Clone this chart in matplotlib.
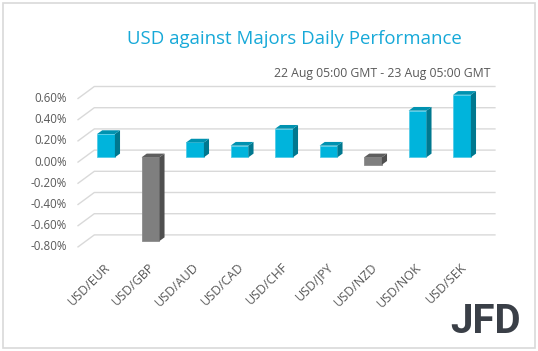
import matplotlib
matplotlib.use('Agg')
import matplotlib.pyplot as plt
from matplotlib.patches import Polygon, Rectangle

pairs = ['USD/EUR', 'USD/GBP', 'USD/AUD', 'USD/CAD', 'USD/CHF',
         'USD/JPY', 'USD/NZD', 'USD/NOK', 'USD/SEK']
perf = [0.22, -0.79, 0.14, 0.11, 0.27, 0.11, -0.07, 0.44, 0.59]
grid_vals = [0.6, 0.4, 0.2, 0.0, -0.2, -0.4, -0.6, -0.8]

title = 'USD against Majors Daily Performance'
subtitle = '22 Aug 05:00 GMT - 23 Aug 05:00 GMT'

plt.rcParams['font.family'] = ['Open Sans', 'DejaVu Sans']

W, H = 538, 351
fig = plt.figure(figsize=(W / 100, H / 100), dpi=100)
ax = fig.add_axes([0.1557, 0.2921, 0.7444, 0.4711])
ax.set_xlim(-0.5, len(pairs) - 0.5)
ax.set_ylim(-0.86, 0.70)
ax.axis('off')

text_col = '#595959'
grid_col = '#d9d9d9'

# 3D-ish gridlines: front diagonal + back horizontal
front_off, back_off = -0.045, 0.068
for v in grid_vals:
    ax.plot([-0.629, -0.263, 8.74], [v + front_off, v + back_off, v + back_off],
            color=grid_col, lw=1.0, clip_on=False, zorder=1)
    ax.text(-0.876, v + front_off, f'{v:.2f}%', ha='right', va='center',
            fontsize=8.3, color=text_col, clip_on=False)

# bars with depth
bw, dx, dy = 0.40, 0.115, 0.035
for i, v in enumerate(perf):
    if v >= 0:
        front, side, top = '#00b4dc', '#00788f', '#0092b0'
        edge = '#52cbe8'
    else:
        front, side, top = '#7f7f7f', '#4f4f4f', '#5e5e5e'
        edge = '#8c8c8c'
    x0, x1 = i - bw / 2, i + bw / 2
    t, b = max(v, 0), min(v, 0)
    ax.add_patch(Rectangle((x0, b), bw, t - b, facecolor=front, edgecolor=edge,
                           lw=0.6, zorder=3))
    ax.add_patch(Polygon([(x1, b), (x1, t), (x1 + dx, t + dy), (x1 + dx, b + dy)],
                         closed=True, facecolor=side, edgecolor='none', zorder=3))
    ax.add_patch(Polygon([(x0, t), (x1, t), (x1 + dx, t + dy), (x0 + dx, t + dy)],
                         closed=True, facecolor=top, edgecolor='none', zorder=3))
    ax.text(i - 0.05, -0.975, pairs[i], rotation=45, ha='right', va='top',
            rotation_mode='anchor', fontsize=9, color=text_col, clip_on=False)

fig.text(294 / W, 1 - 39 / H, title, ha='center', va='center',
         fontsize=13.4, color='#17a9d8')
fig.text(491 / W, 1 - 73 / H, subtitle, ha='right', va='center',
         fontsize=8.8, color=text_col)

# logo
fig.text(486 / W, 1 - 322 / H, 'JFD', ha='center', va='center',
         fontsize=29, fontweight='bold', color='#3a3f47', family='Roboto')

# outer border
fig.patches.append(Rectangle((2.5 / W, 3.5 / H), 532.5 / W, 345 / H,
                             transform=fig.transFigure, fill=False,
                             edgecolor='#d9d9d9', lw=1.2))

fig.savefig('out.png', dpi=100)
